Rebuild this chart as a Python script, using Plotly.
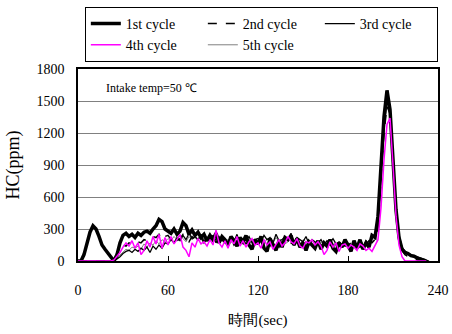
import plotly.graph_objects as go

# time axis (sec), sampled every 2 s
t = list(range(0, 241, 2))

N = None
cycle1 = [0, 0, 60, 170, 270, 330, 300, 230, 150, 110,
          70, 30, 0, 60, 170, 240, 260, 230, 250, 220,
          260, 240, 270, 280, 260, 300, 330, 390, 370, 300,
          280, 260, 300, 250, 280, 360, 330, 250, 290, 240,
          270, 220, 250, 190, 240, 200, 260, 170, 230, 200,
          150, 230, 190, 140, 220, 180, 240, 150, 110, 200,
          160, 230, 120, 90, 210, 150, 100, 190, 130, 220,
          200, 240, 150, 210, 130, 170, 100, 180, 150, 120,
          190, 110, 170, 140, 200, 120, 90, 170, 130, 200,
          150, 90, 190, 120, 200, 110, 170, 130, 240, 220,
          420, 870, 1350, 1600, 1420, 950, 480, 220, 110, 80,
          70, 50, 45, 30, 20, 10, 0, N, N, N,
          N]
cycle2 = [0, 0, 0, 0, 0, 0, 0, 0, 0, 0,
          0, 0, 20, 60, 110, 150, 140, 170, 160, 150,
          180, 170, 200, 190, 210, 230, 220, 250, 200, 230,
          240, 200, 230, 190, 210, 250, 220, 180, 230, 200,
          190, 220, 170, 210, 180, 230, 190, 160, 200, 170,
          180, 210, 150, 190, 170, 200, 160, 190, 150, 180,
          170, 200, 150, 180, 140, 190, 160, 130, 180, 160,
          190, 170, 150, 200, 160, 180, 140, 170, 150, 160,
          170, 140, 160, 180, 150, 130, 170, 150, 160, 140,
          150, 170, 140, 160, 130, 180, 150, 190, 170, 200,
          300, 700, 1200, 1450, 1380, 950, 500, 220, 100, 60,
          40, 30, 20, 10, 0, 0, 0, N, N, N,
          N]
cycle3 = [0, 0, 0, 0, 0, 0, 0, 0, 0, 0,
          0, 0, 0, 20, 40, 70, 90, 100, 80, 110,
          90, 120, 100, 130, 80, 140, 110, 150, 120, 170,
          160, 200, 170, 220, 190, 240, 200, 260, 210, 230,
          200, 250, 180, 220, 200, 240, 170, 230, 190, 210,
          170, 220, 180, 250, 160, 210, 190, 230, 170, 200,
          210, 180, 240, 200, 220, 170, 250, 190, 200, 230,
          190, 260, 170, 220, 200, 180, 230, 160, 200, 180,
          170, 200, 150, 190, 170, 210, 160, 180, 150, 190,
          160, 140, 180, 150, 170, 130, 190, 160, 210, 250,
          350, 780, 1250, 1500, 1400, 980, 520, 250, 130, 90,
          70, 60, 50, 40, 30, 20, 10, 0, N, N,
          N]
cycle4 = [0, 0, 0, 0, 0, 0, 0, 0, 0, 0,
          0, 0, 10, 40, 80, 130, 170, 140, 190, 120,
          170, 60, 100, 190, 130, 230, 160, 250, 120, 220,
          150, 230, 160, 200, 250, 130, 100, 40, 170, 130,
          210, 160, 180, 140, 200, 150, 290, 170, 130, 190,
          120, 200, 160, 230, 140, 190, 130, 180, 210, 150,
          170, 120, 200, 150, 180, 110, 150, 200, 140, 170,
          230, 180, 160, 210, 140, 120, 180, 170, 200, 150,
          180, 140, 60, 100, 180, 130, 170, 90, 150, 160,
          120, 150, 130, 100, 160, 140, 100, 120, 90, 140,
          200, 500, 950, 1280, 1340, 900, 420, 150, 40, 0,
          0, 0, 0, 0, 0, 0, 0, N, N, N,
          N]
cycle5 = [0, 0, 0, 0, 0, 0, 0, 0, 0, 0,
          0, 0, 0, 30, 60, 90, 110, 100, 130, 120,
          140, 110, 160, 130, 170, 150, 190, 160, 200, 180,
          210, 190, 230, 200, 240, 210, 180, 230, 200, 220,
          190, 230, 200, 180, 220, 210, 170, 200, 230, 190,
          200, 170, 210, 190, 220, 180, 200, 160, 190, 210,
          180, 200, 160, 210, 190, 170, 220, 180, 200, 160,
          180, 210, 170, 190, 160, 200, 180, 150, 190, 170,
          160, 180, 150, 170, 190, 160, 140, 180, 160, 150,
          170, 150, 160, 140, 180, 150, 170, 190, 180, 210,
          320, 750, 1200, 1480, 1400, 960, 500, 230, 120, 80,
          60, 45, 35, 25, 15, 10, 0, N, N, N,
          N]

x_ticks = [0, 60, 120, 180, 240]
y_ticks = [0, 300, 600, 900, 1200, 1500, 1800]

FONT = "Liberation Serif"

fig = go.Figure()
fig.add_trace(go.Scatter(x=t, y=cycle5, mode="lines", name="5th cycle", legendrank=5,
                         line=dict(color="#808080", width=1)))
fig.add_trace(go.Scatter(x=t, y=cycle3, mode="lines", name="3rd cycle", legendrank=3,
                         line=dict(color="black", width=1.3)))
fig.add_trace(go.Scatter(x=t, y=cycle2, mode="lines", name="2nd cycle", legendrank=2,
                         line=dict(color="black", width=1.5, dash="dash")))
fig.add_trace(go.Scatter(x=t, y=cycle1, mode="lines", name="1st cycle", legendrank=1,
                         line=dict(color="black", width=3.5)))
fig.add_trace(go.Scatter(x=t, y=cycle4, mode="lines", name="4th cycle", legendrank=4,
                         line=dict(color="#FF00FF", width=1.5)))

fig.add_annotation(x=0.072, y=0.9, xref="paper", yref="paper", xanchor="left",
                   yanchor="middle", showarrow=False, text="Intake temp=50 ℃",
                   font=dict(family=FONT, size=12, color="black"))

fig.update_layout(
    width=452, height=334,
    margin=dict(l=78, r=14, t=69, b=73, autoexpand=False),
    paper_bgcolor="white", plot_bgcolor="white",
    font=dict(family=FONT, size=14, color="black"),
    showlegend=True,
    legend=dict(orientation="h", x=0.019, y=1.323, xanchor="left", yanchor="top",
                bordercolor="black", borderwidth=1, bgcolor="white",
                entrywidth=72, entrywidthmode="pixels", tracegroupgap=0,
                font=dict(family=FONT, size=14, color="black")),
    xaxis=dict(range=[0, 240], tickvals=x_ticks, ticktext=[str(v) for v in x_ticks],
               showgrid=False, zeroline=False, showline=True, linecolor="black",
               linewidth=1.5, mirror=True, ticks="inside", ticklen=5,
               tickcolor="black", ticklabelstandoff=15,
               title=dict(text="時間(sec)", standoff=18,
                          font=dict(family=FONT, size=15))),
    yaxis=dict(range=[0, 1800], tickvals=y_ticks, ticktext=[str(v) for v in y_ticks],
               showgrid=True, gridcolor="#808080", gridwidth=1, zeroline=False,
               showline=True, linecolor="black", linewidth=1.5, mirror=True,
               ticks="", ticklabelstandoff=9,
               title=dict(text="HC(ppm)", standoff=12, font=dict(family=FONT, size=18))),
)

fig.write_html("out.html", config={"displayModeBar": False},
               post_script="document.body.style.margin='0';document.body.style.overflow='hidden';")
